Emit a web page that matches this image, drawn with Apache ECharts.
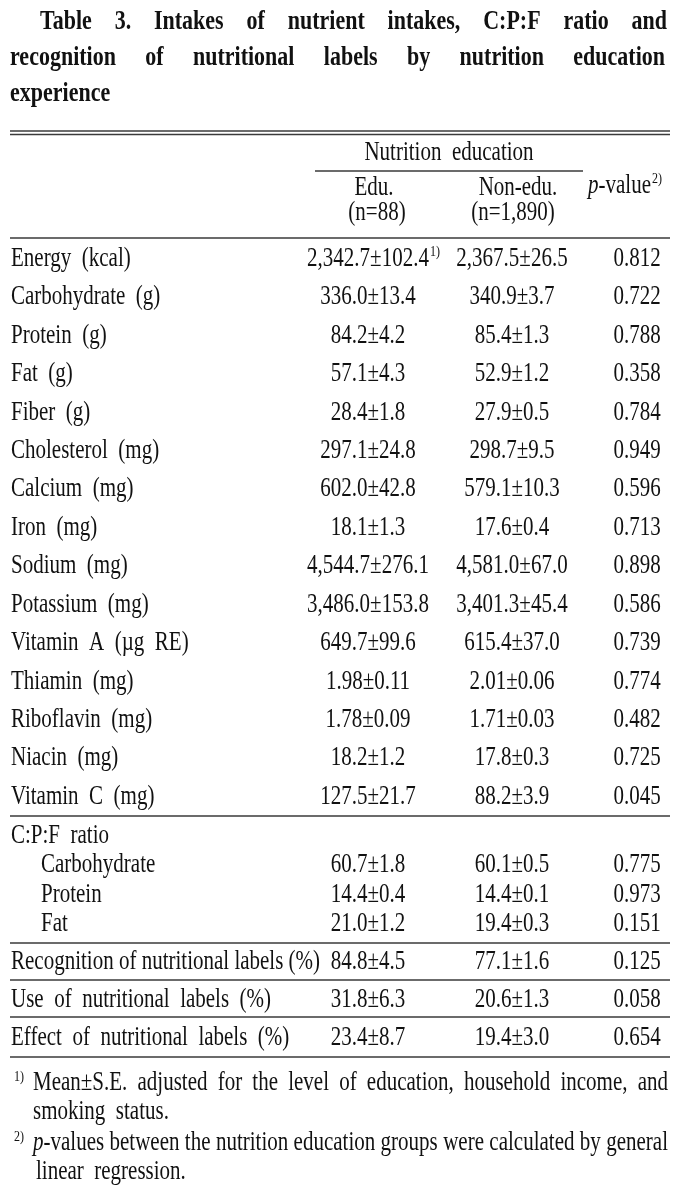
<!DOCTYPE html>
<html><head><meta charset="utf-8">
<script src="https://cdn.jsdelivr.net/npm/echarts@6/dist/echarts.min.js"></script>
<style>html,body{margin:0;padding:0;background:#fff}#c{width:690px;height:1203px}</style>
</head><body><div id="c"></div><script>
// ---------------- DATA ----------------
const titleLines = [
  'Table 3. Intakes of nutrient intakes, C:P:F ratio and',
  'recognition of nutritional labels by nutrition education',
  'experience'
];
const groupHeader = 'Nutrition education';
const colHeaders = ['Edu.', 'Non-edu.'];
const colSizes = ['(n=88)', '(n=1,890)'];

const nutrients = ['Energy (kcal)','Carbohydrate (g)','Protein (g)','Fat (g)','Fiber (g)','Cholesterol (mg)','Calcium (mg)','Iron (mg)','Sodium (mg)','Potassium (mg)','Vitamin A (\u00b5g RE)','Thiamin (mg)','Riboflavin (mg)','Niacin (mg)','Vitamin C (mg)'];
const nutrientEduMean = [2342.7,336.0,84.2,57.1,28.4,297.1,602.0,18.1,4544.7,3486.0,649.7,1.98,1.78,18.2,127.5];
const nutrientEduSE   = [102.4,13.4,4.2,4.3,1.8,24.8,42.8,1.3,276.1,153.8,99.6,0.11,0.09,1.2,21.7];
const nutrientNonMean = [2367.5,340.9,85.4,52.9,27.9,298.7,579.1,17.6,4581.0,3401.3,615.4,2.01,1.71,17.8,88.2];
const nutrientNonSE   = [26.5,3.7,1.3,1.2,0.5,9.5,10.3,0.4,67.0,45.4,37.0,0.06,0.03,0.3,3.9];
const nutrientP       = [0.812,0.722,0.788,0.358,0.784,0.949,0.596,0.713,0.898,0.586,0.739,0.774,0.482,0.725,0.045];
const nutrientDecimals= [1,1,1,1,1,1,1,1,1,1,1,2,2,1,1];

const cpfTitle = 'C:P:F ratio';
const cpfParts   = ['Carbohydrate','Protein','Fat'];
const cpfEduMean = [60.7,14.4,21.0];
const cpfEduSE   = [1.8,0.4,1.2];
const cpfNonMean = [60.1,14.4,19.4];
const cpfNonSE   = [0.5,0.1,0.3];
const cpfP       = [0.775,0.973,0.151];

const labelItems   = ['Recognition of nutritional labels (%)','Use of nutritional labels (%)','Effect of nutritional labels (%)'];
const labelEduMean = [84.8,31.8,23.4];
const labelEduSE   = [4.5,6.3,8.7];
const labelNonMean = [77.1,20.6,19.4];
const labelNonSE   = [1.6,1.3,3.0];
const labelP       = [0.125,0.058,0.654];

const footnote1 = ['Mean\u00b1S.E. adjusted for the level of education, household income, and', 'smoking status.'];
const footnote2 = ['p-values between the nutrition education groups were calculated by general', 'linear regression.'];

// ---------------- LAYOUT / STYLE ----------------
const FAMILY = '"Liberation Serif","Times New Roman",serif';
const BODY = '21px ' + FAMILY;
const ITAL = 'italic 21px ' + FAMILY;
const SUP = '12px ' + FAMILY;
const TITLE = 'bold 22px ' + FAMILY;
const SY = 1.25;
const INK = '#111';
const RULE = '#3a3a3a';
const COL_EDU = 368, COL_NON = 512, COL_P = 637;
const LEFT = 10, RIGHT = 670;

const mctx = document.createElement('canvas').getContext('2d');
function mw(font, s) { mctx.font = font; return mctx.measureText(s).width; }

function fmt(v, d) {
  const s = v.toFixed(d);
  const parts = s.split('.');
  parts[0] = parts[0].replace(/\B(?=(\d{3})+(?!\d))/g, ',');
  return parts.join('.');
}
function T(x, y, text, o) {
  o = o || {};
  return { type: 'text', x: x, y: y, scaleY: o.sy || SY, silent: true,
    style: { text: text, x: 0, y: 0, font: o.font || BODY, fill: o.fill || INK,
      align: o.align || 'left', verticalAlign: 'middle' } };
}
function L(x1, y1, x2, y2, w) {
  return { type: 'line', silent: true, shape: { x1: x1, y1: y1, x2: x2, y2: y2 },
    style: { stroke: RULE, lineWidth: w || 1.4 } };
}
// justify words between x0 and x1; a word starting with 'p-' gets an italic p
function justify(line, x0, x1, y, font, italFont, sy) {
  const words = line.split(' ');
  const widths = words.map(w => {
    if (w.indexOf('p-') === 0 && italFont) return mw(italFont, 'p') + mw(font, w.slice(1));
    return mw(font, w);
  });
  const total = widths.reduce((a, b) => a + b, 0);
  const gap = words.length > 1 ? (x1 - x0 - total) / (words.length - 1) : 0;
  const out = [];
  let x = x0;
  words.forEach((w, i) => {
    if (w.indexOf('p-') === 0 && italFont) {
      out.push(T(x, y, 'p', { font: italFont, sy: sy }));
      out.push(T(x + mw(italFont, 'p'), y, w.slice(1), { font: font, sy: sy }));
    } else {
      out.push(T(x, y, w, { font: font, sy: sy }));
    }
    x += widths[i] + gap;
  });
  return out;
}

// ---------------- STATIC GRAPHICS ----------------
const g = [];
justify(titleLines[0], 40, 667, 22, TITLE, null, 1.2).forEach(e => g.push(e));
justify(titleLines[1], 10, 665, 58, TITLE, null, 1.2).forEach(e => g.push(e));
g.push(T(10, 94, titleLines[2], { font: TITLE, sy: 1.2 }));

g.push(L(LEFT, 131, RIGHT, 131, 1.6));
g.push(L(LEFT, 134.5, RIGHT, 134.5, 1.6));
g.push(T(449, 153, groupHeader.replace(' ', '  '), { align: 'center' }));
g.push(L(315, 171, 583, 171, 1.4));
g.push(T(COL_EDU + 6, 188, colHeaders[0], { align: 'center' }));
g.push(T(COL_EDU + 9, 213, colSizes[0], { align: 'center' }));
g.push(T(COL_NON + 6, 188, colHeaders[1], { align: 'center' }));
g.push(T(COL_NON + 1, 213, colSizes[1], { align: 'center' }));
g.push(T(588, 186, 'p', { font: ITAL }));
const pvx = 588 + mw(ITAL, 'p');
g.push(T(pvx, 186, '-value', {}));
g.push(T(pvx + mw(BODY, '-value') + 1, 179, '2)', { font: SUP }));
g.push(L(LEFT, 238, RIGHT, 238, 1.4));
g.push(L(LEFT, 816, RIGHT, 816, 1.4));
g.push(L(LEFT, 943, RIGHT, 943, 1.4));
g.push(L(LEFT, 980, RIGHT, 980, 1.4));
g.push(L(LEFT, 1017, RIGHT, 1017, 1.4));
g.push(L(LEFT, 1057, RIGHT, 1057, 1.6));

g.push(T(14, 1077, '1)', { font: SUP }));
justify(footnote1[0], 33, 668, 1083, BODY, null, SY).forEach(e => g.push(e));
g.push(T(33, 1112, footnote1[1].replace(' ', '  ')));
g.push(T(14, 1137, '2)', { font: SUP }));
justify(footnote2[0], 33, 668, 1143, BODY, ITAL, SY).forEach(e => g.push(e));
g.push(T(36, 1172, footnote2[1].replace(' ', '  ')));

// ---------------- TABLE CELLS VIA CUSTOM SERIES ----------------
function sp(s) { return s.replace(/ /g, '  '); }
const sections = [
  { labels: nutrients, indent: [], em: nutrientEduMean, es: nutrientEduSE, nm: nutrientNonMean, ns: nutrientNonSE, p: nutrientP, dec: nutrientDecimals, wide: true },
  { labels: [cpfTitle].concat(cpfParts), indent: [0, 1, 1, 1], em: [null].concat(cpfEduMean), es: [null].concat(cpfEduSE), nm: [null].concat(cpfNonMean), ns: [null].concat(cpfNonSE), p: [null].concat(cpfP), dec: [1, 1, 1, 1], wide: false },
  { labels: labelItems, indent: [], em: labelEduMean, es: labelEduSE, nm: labelNonMean, ns: labelNonSE, p: labelP, dec: [1, 1, 1], wide: true }
];
const gridBoxes = [
  { top: 259, height: 797 - 259 },
  { top: 836, height: 924 - 836 },
  { top: 962, height: 1038 - 962 }
];

function makeRender(si) {
  const s = sections[si];
  return function (params, api) {
    const i = api.value(1);
    const pt = api.coord([0, i]);
    const y = pt[1];
    const kids = [];
    const lab = s.labels[i];
    const ind = s.indent[i] ? 30 : 0;
    let labTxt;
    if (si === 1) labTxt = (i === 0 ? 'C:P:F  ratio' : lab);
    else if (si === 2 && i === 0) labTxt = lab; // tight spacing in original
    else labTxt = sp(lab);
    kids.push(T(pt[0] + 1 + ind, y, labTxt));
    if (s.em[i] != null) {
      const d = s.dec[i];
      const eTxt = fmt(s.em[i], d) + '\u00b1' + fmt(s.es[i], d);
      kids.push(T(COL_EDU, y, eTxt, { align: 'center' }));
      if (si === 0 && i === 0) {
        kids.push(T(COL_EDU + mw(BODY, eTxt) / 2 + 1, y - 7, '1)', { font: SUP }));
      }
      kids.push(T(COL_NON, y, fmt(s.nm[i], d) + '\u00b1' + fmt(s.ns[i], d), { align: 'center' }));
      kids.push(T(COL_P, y, s.p[i].toFixed(3), { align: 'center' }));
    }
    return { type: 'group', children: kids };
  };
}

const grids = [], xAxes = [], yAxes = [], series = [];
sections.forEach((s, si) => {
  grids.push({ left: LEFT, right: 690 - RIGHT, top: gridBoxes[si].top, height: gridBoxes[si].height, containLabel: false });
  xAxes.push({ type: 'value', gridIndex: si, min: 0, max: 1, show: false });
  yAxes.push({ type: 'category', gridIndex: si, data: s.labels, inverse: true, boundaryGap: false, show: false });
  series.push({ type: 'custom', xAxisIndex: si, yAxisIndex: si, renderItem: makeRender(si), silent: true,
    data: s.labels.map((_, i) => [0, i]), animation: false });
});

const chart = echarts.init(document.getElementById('c'), null, { renderer: 'canvas' });
chart.setOption({
  backgroundColor: '#ffffff',
  animation: false,
  grid: grids, xAxis: xAxes, yAxis: yAxes, series: series,
  graphic: { elements: g }
});
</script></body></html>
